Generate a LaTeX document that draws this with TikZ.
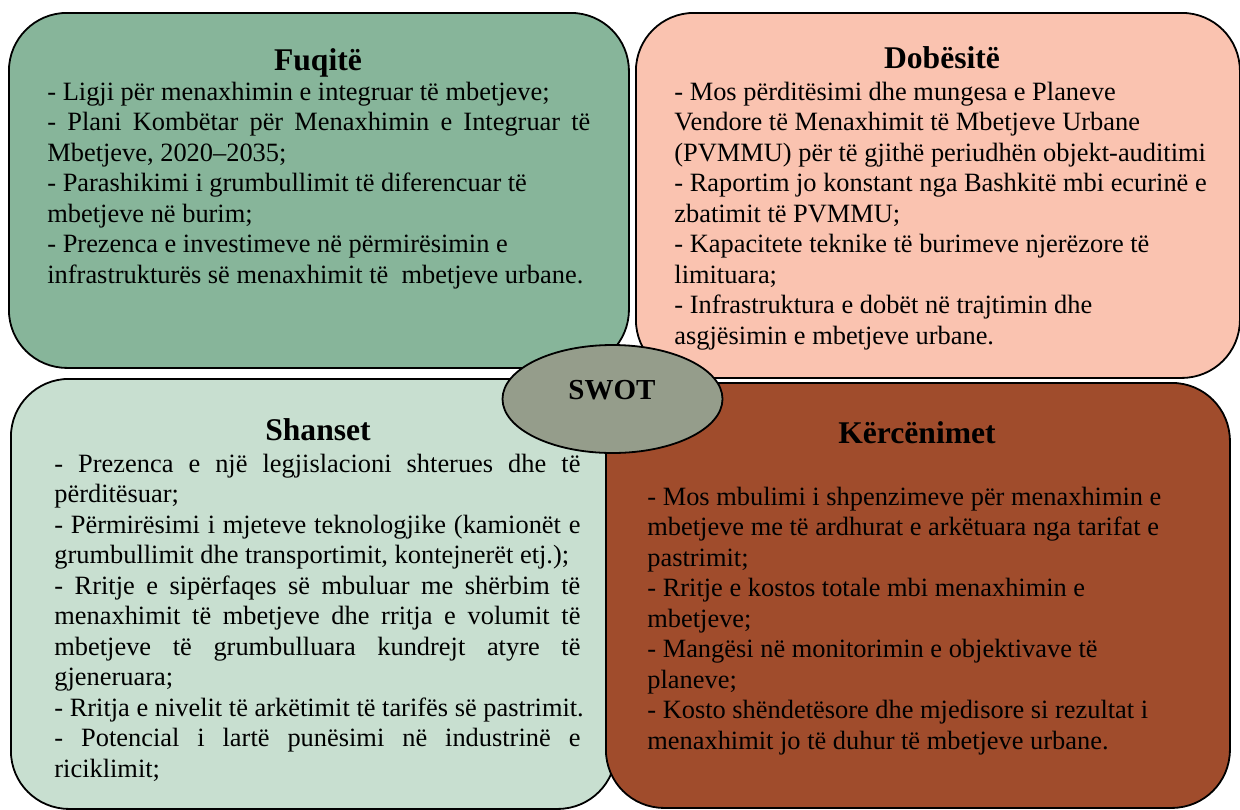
\documentclass[tikz,border=0pt]{standalone}
\usepackage{fontspec}
\setmainfont{Liberation Serif}
\usetikzlibrary{shapes.geometric}
\definecolor{fcol}{HTML}{87B59A}
\definecolor{dcol}{HTML}{FAC3B0}
\definecolor{scol}{HTML}{C8DFD0}
\definecolor{kcol}{HTML}{A04C2C}
\definecolor{ecol}{HTML}{959D8B}
\newcommand{\bodyfnt}{\fontsize{13.2}{15.25}\selectfont}
\newcommand{\titlefnt}{\fontsize{15.8}{18}\selectfont\bfseries}
\newcommand{\nl}[1]{\hbox{#1}}
\newcommand{\jl}[2]{\hbox to #1{#2}}
\tikzset{
  quad/.style={draw=black, line width=0.9pt, rounded corners=29pt, anchor=north west, inner sep=0pt},
  ttl/.style={anchor=base, inner sep=0pt, font=\titlefnt},
  bodytext/.style={anchor=base west, inner sep=0pt},
}
\begin{document}
\begin{tikzpicture}[x=0.5pt,y=-0.5pt]
\useasboundingbox (0,0) rectangle (1240,809);
\clip (0,0) rectangle (1240,809);
% boxes
\node[quad, fill=fcol, minimum width=310pt, minimum height=177.5pt] (fbox) at (8,12) {};
\node[quad, fill=dcol, minimum width=302pt, minimum height=182.5pt] (dbox) at (635,12) {};
\node[quad, fill=scol, minimum width=302.5pt, minimum height=215pt] (sbox) at (10,378) {};
\node[quad, fill=kcol, minimum width=312pt, minimum height=212.5pt] (kbox) at (605,382) {};
% titles
\node[ttl] (ftitle) at (318,70) {Fuqitë};
\node[ttl] (dtitle) at (942,68) {Dobësitë};
\node[ttl] (stitle) at (318,440) {Shanset};
\node[ttl] (ktitle) at (917,443) {Kërcënimet};
% texts
\node[bodytext] (ftext) at (47,100) {\vtop{\bodyfnt
\nl{- Ligji për menaxhimin e integruar të mbetjeve;}
\jl{271.5pt}{- Plani Kombëtar për Menaxhimin e Integruar të}
\nl{Mbetjeve, 2020–2035;}
\nl{- Parashikimi i grumbullimit të diferencuar të}
\nl{mbetjeve në burim;}
\nl{- Prezenca e investimeve në përmirësimin e}
\nl{infrastrukturës së menaxhimit të\ \ mbetjeve urbane.}}};
\node[bodytext] (dtext) at (674,100) {\vtop{\bodyfnt
\nl{- Mos përditësimi dhe mungesa e Planeve}
\nl{Vendore të Menaxhimit të Mbetjeve Urbane}
\nl{(PVMMU) për të gjithë periudhën objekt-auditimi}
\nl{- Raportim jo konstant nga Bashkitë mbi ecurinë e}
\nl{zbatimit të PVMMU;}
\nl{- Kapacitete teknike të burimeve njerëzore të}
\nl{limituara;}
\nl{- Infrastruktura e dobët në trajtimin dhe}
\nl{asgjësimin e mbetjeve urbane.}}};
\node[bodytext] (stext) at (54,472) {\vtop{\bodyfnt
\jl{263pt}{- Prezenca e një legjislacioni shterues dhe të}
\nl{përditësuar;}
\jl{263pt}{- Përmirësimi i mjeteve teknologjike (kamionët e}
\nl{grumbullimit dhe transportimit, kontejnerët etj.);}
\jl{263pt}{- Rritje e sipërfaqes së mbuluar me shërbim të}
\jl{263pt}{menaxhimit të mbetjeve dhe rritja e volumit të}
\jl{263pt}{mbetjeve të grumbulluara kundrejt atyre të}
\nl{gjeneruara;}
\nl{- Rritja e nivelit të arkëtimit të tarifës së pastrimit.}
\jl{263pt}{- Potencial i lartë punësimi në industrinë e}
\nl{riciklimit;}}};
\node[bodytext] (ktext) at (647,505) {\vtop{\bodyfnt
\nl{- Mos mbulimi i shpenzimeve për menaxhimin e}
\nl{mbetjeve me të ardhurat e arkëtuara nga tarifat e}
\nl{pastrimit;}
\nl{- Rritje e kostos totale mbi menaxhimin e}
\nl{mbetjeve;}
\nl{- Mangësi në monitorimin e objektivave të}
\nl{planeve;}
\nl{- Kosto shëndetësore dhe mjedisore si rezultat i}
\nl{menaxhimit jo të duhur të mbetjeve urbane.}}};
% ellipse
\node[ellipse, draw=black, line width=0.9pt, fill=ecol, minimum width=110pt, minimum height=54pt, inner sep=0pt] (swot) at (612.5,399) {};
\node[anchor=base, inner sep=0pt, font=\fontsize{14.5}{17}\selectfont\bfseries] (swotlabel) at (612,399) {SWOT};
\end{tikzpicture}
\end{document}
